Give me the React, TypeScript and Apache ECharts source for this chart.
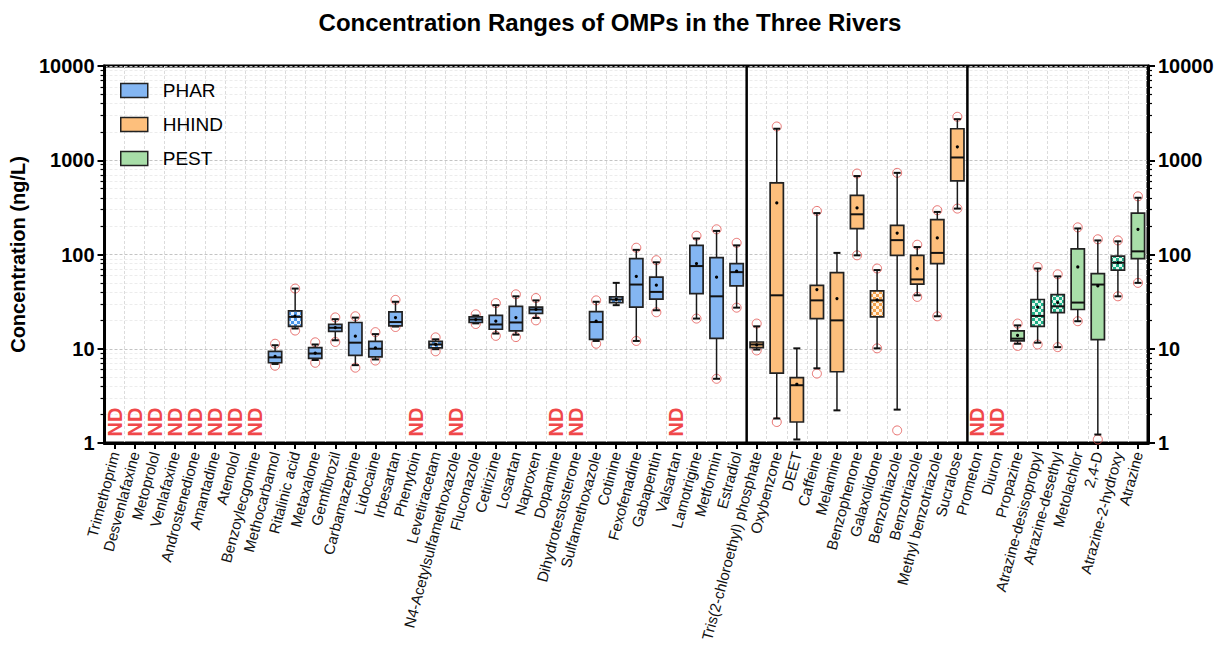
import React, { useEffect, useRef } from "react";
import * as echarts from "echarts";

const pharNames = [
  "Trimethoprim", "Desvenlafaxine", "Metoprolol", "Venlafaxine", "Androstenedione", "Amantadine",
  "Atenolol", "Benzoylecgonine", "Methocarbamol", "Ritalinic acid", "Metaxalone", "Gemfibrozil",
  "Carbamazepine", "Lidocaine", "Irbesartan", "Phenytoin", "Levetiracetam", "N4-Acetylsulfamethoxazole",
  "Fluconazole", "Cetirizine", "Losartan", "Naproxen", "Dopamine", "Dihydrotestosterone",
  "Sulfamethoxazole", "Cotinine", "Fexofenadine", "Gabapentin", "Valsartan", "Lamotrigine",
  "Metformin", "Estradiol",
];
const hhindNames = [
  "Tris(2-chloroethyl) phosphate", "Oxybenzone", "DEET", "Caffeine", "Melamine", "Benzophenone",
  "Galaxolidone", "Benzothiazole", "Benzotriazole", "Methyl benzotriazole", "Sucralose",
];
const pestNames = [
  "Prometon", "Diuron", "Propazine", "Atrazine-desisopropyl", "Atrazine-desethyl", "Metolachlor",
  "2,4-D", "Atrazine-2-hydroxy", "Atrazine",
];

type Box = [number, number, number, number, number] | null; // whisker low, Q1, median, Q3, whisker high
type Ext = [number | null, number | null] | null;

const pharBoxes: Box[] = [
  null, null, null, null, null, null, null, null,
  [6.9, 7.1, 8.1, 9.4, 10.9],
  [16.4, 17.3, 21.8, 25.2, 43.5],
  [7.6, 7.9, 8.9, 10.3, 11.1],
  [12.3, 15.3, 16.7, 18.1, 20.6],
  [6.7, 8.5, 11.6, 19.0, 21.4],
  [7.7, 8.2, 10.0, 12.0, 14.3],
  [17.2, 17.5, 19.2, 24.6, 31.5],
  null,
  [9.9, 10.2, 11.1, 12.0, 12.6],
  null,
  [18.6, 19.0, 20.4, 21.8, 22.5],
  [14.5, 16.1, 18.1, 22.6, 29.0],
  [14.1, 15.5, 19.0, 28.2, 36.0],
  [21.2, 23.7, 26.1, 27.7, 32.6],
  null, null,
  [12.1, 12.6, 19.2, 24.8, 31.5],
  [29.0, 30.9, 33.3, 35.5, 50.0],
  [12.1, 27.7, 48.0, 90.6, 112],
  [25.6, 33.6, 40.1, 57.5, 82.7],
  null,
  [20.9, 38.5, 75.4, 125, 148],
  [4.8, 12.9, 36.0, 92.8, 178],
  [27.3, 46.4, 65.0, 80.1, 125],
];
const pharMeans: (number | null)[] = [
  null, null, null, null, null, null, null, null,
  8.3, 22.2, 9.0, 16.8, 13.6, 10.2, 21.4, null, 11.1, null, 20.4, 19.6, 21.4, 26.1,
  null, null, 19.6, 33.3, 58.6, 47.2, null, 80.1, 57.5, 66.6,
];
const pharExtremes: Ext[] = [
  null, null, null, null, null, null, null, null,
  [6.6, 11.3], [15.6, 43.5], [7.1, 11.7], [11.8, 21.5], [6.3, 22.1], [7.5, 15.0], [17.0, 33.0],
  null, [9.4, 13.2], null, [18.3, 23.2], [13.7, 30.5], [13.3, 37.8], [20.0, 34.5],
  null, null, [11.3, 32.6], [null, null], [12.1, 118], [24.4, 87], null, [20.9, 158], [4.8, 185], [27.3, 133],
];

const hhindBoxes: Box[] = [
  [9.8, 10.3, 11.1, 11.8, 17.3],
  [1.82, 5.5, 36.9, 574, 2160],
  [1.09, 1.67, 4.1, 4.95, 10.1],
  [6.2, 20.9, 32.6, 47.0, 275],
  [2.22, 5.7, 20.0, 64.1, 104],
  [98, 188, 267, 424, 680],
  [10.1, 21.8, 32.6, 41.1, 68.4],
  [2.26, 98, 142, 204, 735],
  [36.9, 48.5, 54.4, 98.1, 120],
  [22.1, 80.1, 104, 235, 283],
  [307, 603, 1070, 2160, 2730],
];
const hhindMeans: (number | null)[] = [11.0, 352, 4.2, 42.5, 34.1, 312, 33, 169, 71, 150, 1390];
const hhindExtremes: Ext[] = [
  [9.6, 18.5], [1.67, 2280], [null, null], [5.45, 290], [null, null], [98, 723],
  [10.1, 71], [1.36, 735], [35.5, 127], [22.1, 295], [307, 2890],
];

const pestBoxes: Box[] = [
  null, null,
  [11.3, 12.1, 12.8, 15.5, 17.7],
  [11.6, 17.3, 22.3, 33.3, 71],
  [10.4, 24.2, 28.2, 37.6, 58.6],
  [19.6, 26.1, 30.9, 115, 189],
  [1.23, 12.5, 48.0, 62.8, 141],
  [36.0, 68.4, 81.8, 95.9, 138],
  [50, 90.6, 108, 275, 400],
];
const pestMeans: (number | null)[] = [null, null, 13.9, 27.7, 30.9, 73.7, 46.4, 82, 185];
const pestExtremes: Ext[] = [
  null, null, [10.7, 18.5], [11.1, 73.7], [10.4, 61.6], [19.6, 194], [1.09, 145], [36.0, 141], [50, 414],
];

const patternedCompounds = [
  "Ritalinic acid", "Levetiracetam", "Cotinine", "Galaxolidone",
  "Atrazine-desisopropyl", "Atrazine-desethyl", "Atrazine-2-hydroxy",
];

const yTicks = [1, 10, 100, 1000, 10000];

const FONT = '"Liberation Sans", Arial, Helvetica, sans-serif';

function makePattern(fg: string, bg: string) {
  const c = document.createElement("canvas");
  c.width = 6;
  c.height = 6;
  const ctx = c.getContext("2d")!;
  ctx.fillStyle = bg;
  ctx.fillRect(0, 0, 6, 6);
  ctx.fillStyle = fg;
  ctx.fillRect(0, 0, 3, 3);
  ctx.fillRect(3, 3, 3, 3);
  return { image: c.toDataURL(), repeat: "repeat", imageWidth: 6, imageHeight: 6 };
}

export default function App() {
  const ref = useRef<HTMLDivElement>(null);

  useEffect(() => {
    if (!ref.current) return;
    const chart = echarts.init(ref.current, null, { renderer: "svg" });

    const categories = [...pharNames, ...hhindNames, ...pestNames];
    const nCat = categories.length;

    const groups = [
      { name: "PHAR", names: pharNames, boxes: pharBoxes, means: pharMeans, ext: pharExtremes, color: "#84B6F2", pat: makePattern("#4C95E8", "#E8F2FF") },
      { name: "HHIND", names: hhindNames, boxes: hhindBoxes, means: hhindMeans, ext: hhindExtremes, color: "#FDBF7C", pat: makePattern("#F2A24E", "#FFF1DF") },
      { name: "PEST", names: pestNames, boxes: pestBoxes, means: pestMeans, ext: pestExtremes, color: "#A8DEA8", pat: makePattern("#1FAF88", "#E6F8EE") },
    ];

    const series: any[] = [];
    const extremeData: number[][] = [];
    const ndData: number[][] = [];
    const sepData: number[][] = [];
    let offset = 0;

    groups.forEach((g, gi) => {
      if (gi > 0) sepData.push([offset]);
      const data: any[] = [];
      g.names.forEach((nm, i) => {
        const idx = offset + i;
        const b = g.boxes[i];
        if (!b) {
          ndData.push([idx]);
          return;
        }
        const pat = patternedCompounds.includes(nm) ? 1 : 0;
        data.push([idx, b[0], b[1], b[2], b[3], b[4], g.means[i] ?? b[2], pat]);
        const e = g.ext[i];
        if (e) {
          if (e[0] != null) extremeData.push([idx, e[0]]);
          if (e[1] != null) extremeData.push([idx, e[1]]);
        }
      });
      const color = g.color;
      const patFill = g.pat;
      series.push({
        name: g.name,
        type: "custom",
        z: 4,
        itemStyle: { color, borderColor: "#222", borderWidth: 1.5 },
        encode: { x: 0, y: [1, 2, 3, 4, 5] },
        data,
        renderItem: (params: any, api: any) => {
          const x = api.value(0);
          const lo = api.coord([x, api.value(1)]);
          const q1 = api.coord([x, api.value(2)]);
          const md = api.coord([x, api.value(3)]);
          const q3 = api.coord([x, api.value(4)]);
          const hi = api.coord([x, api.value(5)]);
          const mn = api.coord([x, api.value(6)]);
          const band = params.coordSys.width / nCat;
          const cx = md[0];
          const bw = band * 0.66;
          const cw = 7;
          const fill = api.value(7) === 1 ? patFill : color;
          const ln = { stroke: "#1a1a1a", lineWidth: 1.5 };
          return {
            type: "group",
            children: [
              { type: "line", shape: { x1: cx, y1: hi[1], x2: cx, y2: q3[1] }, style: ln },
              { type: "line", shape: { x1: cx, y1: q1[1], x2: cx, y2: lo[1] }, style: ln },
              { type: "line", shape: { x1: cx - cw / 2, y1: hi[1], x2: cx + cw / 2, y2: hi[1] }, style: { stroke: "#111", lineWidth: 2 } },
              { type: "line", shape: { x1: cx - cw / 2, y1: lo[1], x2: cx + cw / 2, y2: lo[1] }, style: { stroke: "#111", lineWidth: 2 } },
              { type: "rect", shape: { x: cx - bw / 2, y: q3[1], width: bw, height: Math.max(q1[1] - q3[1], 1) }, style: { fill, stroke: "#222", lineWidth: 1.7 } },
              { type: "line", shape: { x1: cx - bw / 2, y1: md[1], x2: cx + bw / 2, y2: md[1] }, style: { stroke: "#111", lineWidth: 2 } },
              { type: "circle", shape: { cx, cy: mn[1], r: 1.6 }, style: { fill: "#000" } },
            ],
          };
        },
      });
      offset += g.names.length;
    });

    series.push({
      name: "extremes",
      type: "scatter",
      z: 3,
      symbol: "circle",
      symbolSize: 9,
      itemStyle: { color: "rgba(255,255,255,0)", borderColor: "#E2514F", borderWidth: 1 },
      data: extremeData,
    });

    series.push({
      name: "ND",
      type: "custom",
      z: 5,
      encode: { x: 0 },
      data: ndData,
      renderItem: (params: any, api: any) => {
        const p = api.coord([api.value(0), 1]);
        return {
          type: "text",
          x: p[0],
          y: p[1] - 21,
          rotation: Math.PI / 2,
          style: {
            text: "ND",
            fill: "#F0484A",
            font: `bold 20px ${FONT}`,
            align: "center",
            verticalAlign: "middle",
          },
        };
      },
    });

    series.push({
      name: "separators",
      type: "custom",
      z: 6,
      encode: { x: 0 },
      data: sepData,
      renderItem: (params: any, api: any) => {
        const band = params.coordSys.width / nCat;
        const x = api.coord([api.value(0), 1])[0] - band / 2;
        return {
          type: "line",
          shape: { x1: x, y1: params.coordSys.y, x2: x, y2: params.coordSys.y + params.coordSys.height },
          style: { stroke: "#000", lineWidth: 2.5 },
        };
      },
    });

    const yAxisBase = (pos: "left" | "right") => ({
      type: "log",
      logBase: 10,
      min: yTicks[0],
      max: yTicks[yTicks.length - 1],
      position: pos,
      axisLine: { show: true, lineStyle: { color: "#000", width: 3 } },
      axisTick: { show: true, length: 7, lineStyle: { color: "#000", width: 2 } },
      minorTick: { show: true, splitNumber: 9, length: 4, lineStyle: { color: "#000", width: 1.2 } },
      axisLabel: {
        color: "#000",
        fontSize: 20,
        fontWeight: "bold",
        fontFamily: FONT,
        margin: 10,
        formatter: (v: number) => String(Math.round(v)),
      },
      splitLine: pos === "left" ? { show: true, lineStyle: { color: "#c4c4c4", width: 1, type: [3, 2] } } : { show: false },
      minorSplitLine: pos === "left" ? { show: true, lineStyle: { color: "#ececec", width: 1, type: [3, 2] } } : { show: false },
    });

    chart.setOption({
      animation: false,
      backgroundColor: "#fff",
      title: {
        text: "Concentration Ranges of OMPs in the Three Rivers",
        left: "center",
        top: 5,
        textStyle: { fontSize: 24, fontWeight: "bold", color: "#000", fontFamily: FONT },
      },
      legend: {
        data: ["PHAR", "HHIND", "PEST"],
        orient: "vertical",
        left: 115,
        top: 76,
        itemWidth: 27,
        itemHeight: 14,
        itemGap: 15,
        icon: "rect",
        selectedMode: false,
        itemStyle: { borderColor: "#222", borderWidth: 1.5 },
        textStyle: { fontSize: 19, color: "#000", fontFamily: FONT, padding: [0, 0, 0, 10] },
      },
      grid: {
        left: 102,
        right: 72,
        top: 66,
        bottom: 209,
        show: true,
        borderColor: "#000",
        borderWidth: 3,
      },
      xAxis: {
        type: "category",
        data: categories,
        boundaryGap: true,
        axisLine: { show: true, lineStyle: { color: "#000", width: 3 } },
        axisTick: { show: true, alignWithLabel: true, interval: 0, length: 6, lineStyle: { color: "#000", width: 2 } },
        axisLabel: {
          interval: 0,
          rotate: 75,
          fontSize: 15,
          color: "#111",
          fontFamily: FONT,
          margin: 9,
        },
        splitLine: { show: true, interval: 0, lineStyle: { color: "#dcdcdc", width: 1, type: [3, 2] } },
      },
      yAxis: [
        {
          ...yAxisBase("left"),
          name: "Concentration (ng/L)",
          nameLocation: "middle",
          nameGap: 69,
          nameTextStyle: { fontSize: 20, fontWeight: "bold", color: "#000", fontFamily: FONT },
        },
        yAxisBase("right"),
      ],
      series,
    });

    return () => chart.dispose();
  }, []);

  return (
    <div
      ref={ref}
      style={{ position: "fixed", left: 0, top: 0, width: 1220, height: 652, background: "#fff" }}
    />
  );
}
